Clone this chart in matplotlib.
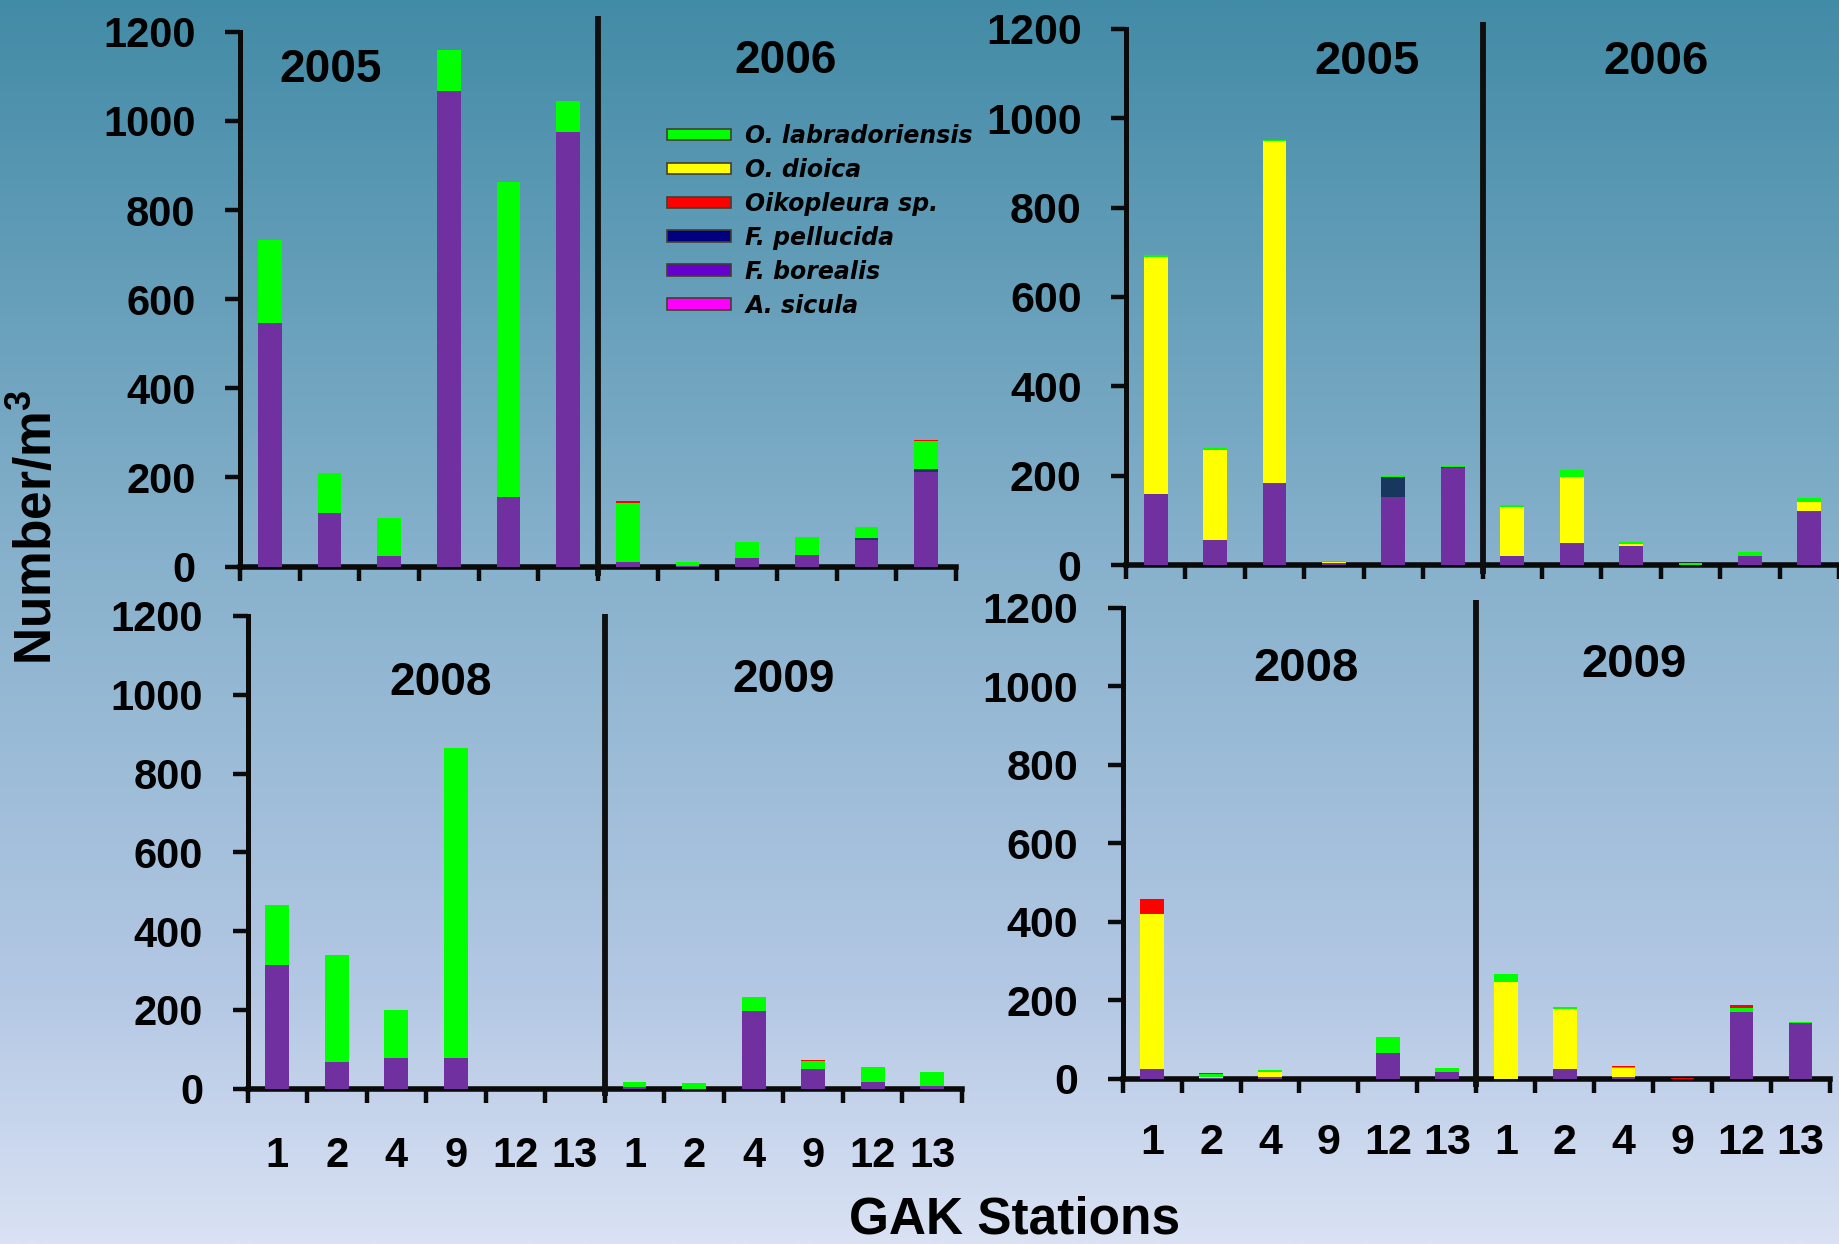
import numpy as np
import matplotlib
matplotlib.use("Agg")
import matplotlib.pyplot as plt
from matplotlib import font_manager as fm
from matplotlib.patches import Patch

# ---------------- data ----------------
stations = ["1", "2", "4", "9", "12", "13"]
species = ["A. sicula", "F. borealis", "F. pellucida", "O. dioica",
           "O. labradoriensis", "Oikopleura sp."]

# top-left panel (2005 | 2006)
tl_sicula = [0, 0, 0, 0, 0, 0, 0, 0, 0, 0, 0, 0]
tl_borealis = [546, 121, 24, 1067, 157, 976, 10, 2, 19, 27, 60, 212]
tl_pellucida = [0, 0, 0, 0, 0, 0, 0, 0, 0, 0, 5, 8]
tl_dioica = [0, 0, 0, 0, 0, 0, 0, 0, 0, 0, 0, 0]
tl_labrador = [186, 90, 84, 93, 705, 68, 133, 8, 36, 39, 24, 61]
tl_sp = [0, 0, 0, 0, 0, 0, 4, 0, 0, 0, 0, 2]

# top-right panel (2005 | 2006)
tr_sicula = [0, 0, 0, 0, 0, 0, 0, 0, 0, 0, 0, 0]
tr_borealis = [160, 55, 183, 4, 152, 217, 21, 49, 42, 1, 20, 121]
tr_pellucida = [0, 0, 0, 0, 45, 2, 0, 0, 0, 0, 0, 0]
tr_dioica = [530, 202, 767, 2, 0, 0, 109, 149, 5, 0, 0, 20]
tr_labrador = [3, 5, 2, 3, 3, 2, 5, 14, 5, 3, 8, 9]
tr_sp = [0, 0, 0, 0, 0, 0, 0, 0, 0, 0, 0, 0]

# bottom-left panel (2008 | 2009)
bl_sicula = [0, 0, 0, 0, 0, 0, 0, 0, 0, 0, 0, 0]
bl_borealis = [314, 67, 78, 78, 0, 0, 3, 0, 196, 49, 17, 7]
bl_pellucida = [0, 0, 0, 0, 0, 0, 0, 0, 0, 0, 0, 0]
bl_dioica = [0, 0, 0, 0, 0, 0, 0, 0, 0, 0, 0, 0]
bl_labrador = [152, 272, 122, 786, 0, 0, 13, 15, 36, 21, 39, 36]
bl_sp = [0, 0, 0, 0, 0, 0, 0, 0, 0, 2, 0, 0]

# bottom-right panel (2008 | 2009)
br_sicula = [0, 0, 0, 0, 0, 0, 0, 0, 0, 0, 0, 0]
br_borealis = [25, 3, 5, 0, 67, 17, 0, 25, 6, 0, 170, 143]
br_pellucida = [0, 0, 0, 0, 0, 0, 0, 0, 0, 0, 0, 0]
br_dioica = [394, 3, 14, 0, 0, 0, 246, 152, 21, 0, 0, 0]
br_labrador = [0, 6, 5, 0, 39, 10, 21, 7, 4, 0, 11, 3]
br_sp = [40, 4, 0, 0, 0, 0, 0, 0, 2, 2, 8, 0]

yticks = [0, 200, 400, 600, 800, 1000, 1200]

# ---------------- style ----------------
bar_colors = {"A. sicula": "#ff00ff", "F. borealis": "#7030a0",
              "F. pellucida": "#17375e", "O. dioica": "#ffff00",
              "O. labradoriensis": "#00ff00", "Oikopleura sp.": "#ff0000"}
legend_colors = {"O. labradoriensis": "#00ff00", "O. dioica": "#ffff00",
                 "Oikopleura sp.": "#ff0000", "F. pellucida": "#000080",
                 "F. borealis": "#6600cc", "A. sicula": "#ff00ff"}
legend_order = ["O. labradoriensis", "O. dioica", "Oikopleura sp.",
                "F. pellucida", "F. borealis", "A. sicula"]

names = {f.name for f in fm.fontManager.ttflist}
BOLD = "Liberation Sans" if "Liberation Sans" in names else "DejaVu Sans"
if "Liberation Sans Narrow" in names:
    NARROW, NSIZE = "Liberation Sans Narrow", 36
else:
    NARROW, NSIZE = BOLD, 31

plt.rcParams["mathtext.fontset"] = "custom"
plt.rcParams["mathtext.rm"] = BOLD + ":bold"
plt.rcParams["mathtext.bf"] = BOLD + ":bold"
plt.rcParams["mathtext.it"] = BOLD + ":bold"

W, H = 1839, 1244
fig = plt.figure(figsize=(W / 100, H / 100), dpi=100)

# background gradient
bg = fig.add_axes([0, 0, 1, 1], zorder=-10)
stops = [0.0, 0.45, 0.8, 1.0]
cols = np.array([[66, 139, 166], [135, 177, 204], [180, 200, 228], [218, 226, 244]]) / 255
t = np.linspace(0, 1, 600)
grad = np.stack([np.interp(t, stops, cols[:, k]) for k in range(3)], axis=1)
bg.imshow(grad[:, None, :], aspect="auto", extent=[0, 1, 0, 1])
bg.set_axis_off()


def px_axes(l, t_, r, b):
    return fig.add_axes([l / W, 1 - b / H, (r - l) / W, (b - t_) / H])


def panel(box, data, font, fsize, show_labels, div_top, label_pad):
    ax = px_axes(*box)
    ax.patch.set_alpha(0)
    x = np.arange(12) + 0.5
    bottom = np.zeros(12)
    for sp_name, vals in zip(species, data):
        v = np.array(vals, dtype=float)
        ax.bar(x, v, width=0.4, bottom=bottom, color=bar_colors[sp_name],
               edgecolor="none", zorder=3)
        bottom += v
    ax.set_xlim(0, 12)
    ax.set_ylim(0, 1200)
    for s in ["top", "right"]:
        ax.spines[s].set_visible(False)
    ax.spines["left"].set_linewidth(3.6)
    ax.spines["bottom"].set_linewidth(4.0)
    ax.spines["left"].set_color("#0a0a0a")
    ax.spines["bottom"].set_color("#0a0a0a")
    ax.set_yticks(yticks)
    ax.set_yticklabels([str(v) for v in yticks], fontfamily=font,
                       fontweight="bold", fontsize=fsize)
    ax.tick_params(axis="y", direction="out", length=11, width=3.2, pad=21,
                   color="#0a0a0a")
    ax.set_xticks(np.arange(13))
    ax.set_xticklabels([])
    ax.tick_params(axis="x", which="major", direction="out", length=10,
                   width=3.2, color="#0a0a0a")
    if show_labels:
        ax.set_xticks(x, minor=True)
        ax.set_xticklabels(stations * 2, minor=True, fontfamily=font,
                           fontweight="bold", fontsize=fsize)
        ax.tick_params(axis="x", which="minor", length=0, pad=label_pad)
    ax.plot([6, 6], [-20, div_top], color="#0f0f0f", lw=4.2,
            clip_on=False, zorder=4, solid_capstyle="butt")
    return ax


tl = panel((240, 31.7, 956, 566.6),
           [tl_sicula, tl_borealis, tl_pellucida, tl_dioica, tl_labrador, tl_sp],
           BOLD, 30, False, 1235, 0)
tr = panel((1126, 29, 1839, 565),
           [tr_sicula, tr_borealis, tr_pellucida, tr_dioica, tr_labrador, tr_sp],
           NARROW, NSIZE, False, 1215, 0)
bl = panel((247.5, 616, 962, 1088.6),
           [bl_sicula, bl_borealis, bl_pellucida, bl_dioica, bl_labrador, bl_sp],
           BOLD, 30, True, 1206, 34)
br = panel((1122.6, 607.6, 1830, 1079),
           [br_sicula, br_borealis, br_pellucida, br_dioica, br_labrador, br_sp],
           NARROW, NSIZE, True, 1220, 32)


def ftext(px, py, s, font, size, **kw):
    fig.text(px / W, 1 - py / H, s, fontfamily=font, fontweight="bold",
             fontsize=size, ha="center", va="center", **kw)


ftext(331, 70, "2005", BOLD, 33)
ftext(786, 61, "2006", BOLD, 33)
ftext(1367, 62, "2005", NARROW, NSIZE + 3)
ftext(1656, 62, "2006", NARROW, NSIZE + 3)
ftext(441, 683, "2008", BOLD, 33)
ftext(784, 680, "2009", BOLD, 33)
ftext(1306, 669, "2008", NARROW, NSIZE + 3)
ftext(1634, 665, "2009", NARROW, NSIZE + 3)

ftext(38, 527, r"Number/m$^{3}$", BOLD, 37, rotation=90)
ftext(1015, 1220, "GAK Stations", BOLD, 37)

handles = [Patch(facecolor=legend_colors[n], edgecolor="#404030", linewidth=1.2)
           for n in legend_order]
fig.legend(handles, legend_order, loc="upper left",
           bbox_to_anchor=(667 / W, 1 - 124 / H), frameon=False,
           prop={"family": "DejaVu Sans", "style": "oblique",
                 "weight": "bold", "size": 17},
           handlelength=2.7, handleheight=0.38, handletextpad=0.62,
           labelspacing=0.42, borderpad=0, borderaxespad=0)

fig.savefig("out.png", dpi=100)
